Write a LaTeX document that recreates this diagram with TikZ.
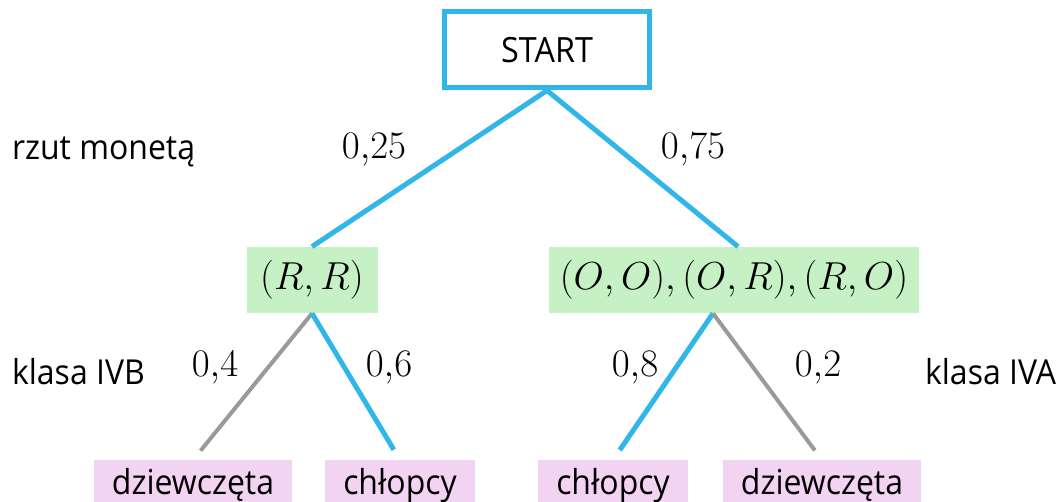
\documentclass[tikz,border=0pt]{standalone}
\usepackage{fix-cm}
\usepackage{amsmath}
\usepackage{fontspec}
\setmainfont{Open Sans}[FakeStretch=0.93]
\usepackage{tikz}
\usetikzlibrary{positioning}

\definecolor{treeblue}{HTML}{31B6EA}
\definecolor{treegreen}{HTML}{C5F1C5}
\definecolor{treepink}{HTML}{F2D3F2}
\definecolor{treegray}{HTML}{9A9A9A}

\tikzset{
  startbox/.style={draw=treeblue, line width=2.5pt, minimum width=102.5pt, minimum height=38pt, font=\fontsize{17.4}{21}\selectfont},
  outcome/.style={fill=treegreen, inner sep=0pt, minimum height=33pt, font=\fontsize{19.5}{23}\selectfont},
  leaf/.style={fill=treepink, inner xsep=9pt, inner ysep=0pt, minimum height=25pt, anchor=north, font=\fontsize{17.2}{21}\selectfont},
  prob/.style={font=\fontsize{19.5}{23}\selectfont},
  side/.style={anchor=west, font=\fontsize{17.2}{21}\selectfont},
  bluebranch/.style={draw=treeblue, line width=2.5pt},
  graybranch/.style={draw=treegray, line width=2pt}
}

\begin{document}
\begin{tikzpicture}[x=0.5pt, y=-0.5pt]
  \useasboundingbox (0,0) rectangle (1061,502);

  % root
  \node [startbox] (start) at (547,50) {START};

  % first draw: coin
  \node [outcome, minimum width=65.5pt] (rr) at (312,280) {$(R, R)$};
  \node [outcome, minimum width=185pt] (rest) at (734,280) {$(O, O), (O, R), (R, O)$};
  \draw [bluebranch] (start.south) -- (rr.north);
  \draw [bluebranch] (start.south) -- ([xshift=2pt]rest.north);

  % second draw: class
  \node [leaf] (girlsB) at (193,460) {dziewczęta};
  \node [leaf] (boysB) at (400,460) {chłopcy};
  \node [leaf] (boysA) at (613,460) {chłopcy};
  \node [leaf] (girlsA) at (822,460) {dziewczęta};
  \coordinate (restfoot) at ([xshift=-10.5pt]rest.south);
  \draw [graybranch, shorten >=6pt] (rr.south) -- (girlsB.north);
  \draw [bluebranch, shorten >=6pt] (rr.south) -- (boysB.north);
  \draw [bluebranch, shorten >=6pt] (restfoot) -- (boysA.north);
  \draw [graybranch, shorten >=6pt] (restfoot) -- (girlsA.north);

  % labels
  \node [side] (coin) at (5,152) {rzut monetą};
  \node [prob] (p1) at (374,150) {$0{,}25$};
  \node [prob] (p2) at (693,150) {$0{,}75$};
  \node [side] (classB) at (5,372) {klasa IVB};
  \node [prob] (p3) at (215,368) {$0{,}4$};
  \node [prob] (p4) at (389,368) {$0{,}6$};
  \node [prob] (p5) at (635,368) {$0{,}8$};
  \node [prob] (p6) at (818,368) {$0{,}2$};
  \node [side] (classA) at (918,372) {klasa IVA};
\end{tikzpicture}
\end{document}
